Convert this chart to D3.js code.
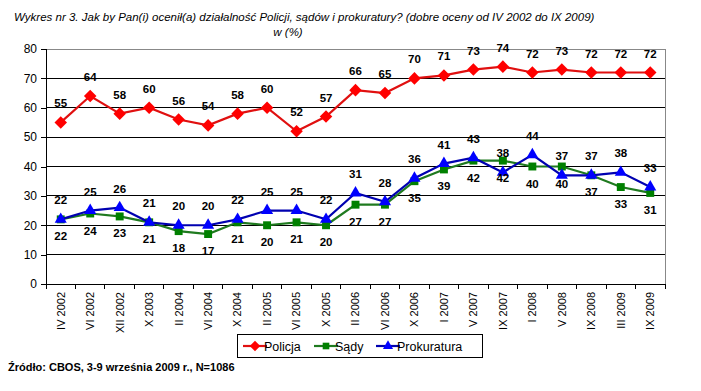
<!DOCTYPE html>
<html lang="pl">
<head>
    <meta charset="UTF-8">
    <script src="https://cdn.jsdelivr.net/npm/d3@7"></script>
    <title>Wykres nr 3</title>
    <style>
        body { margin: 0; background: white; }
        text { font-family: Arial, "Liberation Sans", sans-serif; }
    </style>
</head>
<body>
    <div id="chart"></div>
    <script>
        const categories = ["IV 2002", "VI 2002", "XII 2002", "X 2003", "II 2004", "VI 2004", "X 2004",
            "II 2005", "VI 2005", "X 2005", "II 2006", "VI 2006", "X 2006", "I 2007", "V 2007",
            "IX 2007", "I 2008", "V 2008", "IX 2008", "III 2009", "IX 2009"];
        const policja = [55, 64, 58, 60, 56, 54, 58, 60, 52, 57, 66, 65, 70, 71, 73, 74, 72, 73, 72, 72, 72];
        const sady = [22, 24, 23, 21, 18, 17, 21, 20, 21, 20, 27, 27, 35, 39, 42, 42, 40, 40, 37, 33, 31];
        const prokuratura = [22, 25, 26, 21, 20, 20, 22, 25, 25, 22, 31, 28, 36, 41, 43, 38, 44, 37, 37, 38, 33];
        const yTicks = [0, 10, 20, 30, 40, 50, 60, 70, 80];

        const series = [
            { name: "Policja", values: policja, line: "#e01010", fill: "#ff0000", marker: "diamond", labelPos: "above" },
            { name: "Sądy", values: sady, line: "#1f7a1f", fill: "#008000", marker: "square", labelPos: "below" },
            { name: "Prokuratura", values: prokuratura, line: "#0000b0", fill: "#0000ff", marker: "triangle", labelPos: "above" }
        ];

        const width = 701, height = 391;
        const plot = { left: 46, right: 665, top: 49, bottom: 284 };

        const svg = d3.select("#chart").append("svg")
            .attr("width", width)
            .attr("height", height);

        // title
        svg.append("text")
            .attr("x", 14).attr("y", 21)
            .attr("font-size", 11.5)
            .attr("font-style", "italic")
            .text("Wykres nr 3. Jak by Pan(i) ocenił(a) działalność Policji, sądów i prokuratury? (dobre oceny od IV 2002 do IX 2009)");
        svg.append("text")
            .attr("x", 288).attr("y", 36)
            .attr("font-size", 11.5)
            .attr("font-style", "italic")
            .attr("text-anchor", "middle")
            .text("w (%)");

        const x = d3.scaleBand().domain(categories).range([plot.left, plot.right]);
        const y = d3.scaleLinear().domain([0, 80]).range([plot.bottom, plot.top]);
        const cx = d => x(d) + x.bandwidth() / 2;

        // gridlines
        svg.append("g").selectAll("line")
            .data(yTicks.filter(t => t > 0 && t < 80))
            .enter().append("line")
            .attr("x1", plot.left).attr("x2", plot.right)
            .attr("y1", d => y(d)).attr("y2", d => y(d))
            .attr("stroke", "#000").attr("stroke-width", 1)
            .attr("shape-rendering", "crispEdges");

        // plot border top/right (gray)
        svg.append("path")
            .attr("d", `M${plot.left},${y(80)}H${plot.right}V${plot.bottom}`)
            .attr("fill", "none").attr("stroke", "#888")
            .attr("shape-rendering", "crispEdges");

        // y axis
        const yAxis = svg.append("g")
            .attr("transform", `translate(${plot.left},0)`)
            .call(d3.axisLeft(y).tickValues(yTicks).tickSize(5).tickPadding(4));
        yAxis.selectAll("text").attr("font-size", 12).attr("font-family", "Arial, sans-serif").attr("fill", "#000");
        yAxis.selectAll("path, line").attr("stroke", "#000").attr("shape-rendering", "crispEdges");

        // x axis
        const xAxis = svg.append("g")
            .attr("transform", `translate(0,${plot.bottom})`)
            .call(d3.axisBottom(x).tickSize(0).tickSizeOuter(0));
        xAxis.select(".domain").attr("stroke", "#000").attr("shape-rendering", "crispEdges");
        xAxis.selectAll(".tick text")
            .attr("font-size", 11).attr("font-family", "Arial, sans-serif").attr("fill", "#000")
            .attr("text-anchor", "end")
            .attr("transform", "rotate(-90)")
            .attr("x", -8).attr("y", 0).attr("dy", "0.35em");
        // tick marks at band boundaries
        svg.append("g").selectAll("line")
            .data(d3.range(categories.length + 1))
            .enter().append("line")
            .attr("x1", i => plot.left + i * x.step()).attr("x2", i => plot.left + i * x.step())
            .attr("y1", plot.bottom).attr("y2", plot.bottom + 5)
            .attr("stroke", "#000").attr("shape-rendering", "crispEdges");

        const symbolFor = m => m === "diamond" ? d3.symbolDiamond2 : m === "square" ? d3.symbolSquare2 : d3.symbolTriangle2;
        const sizeFor = m => m === "diamond" ? 100 : m === "square" ? 80 : 105;

        const line = d3.line().x((d, i) => cx(categories[i])).y(d => y(d));

        series.forEach(s => {
            const g = svg.append("g");
            g.append("path")
                .attr("d", line(s.values))
                .attr("fill", "none")
                .attr("stroke", s.line)
                .attr("stroke-width", 2.2);
            g.selectAll("path.m")
                .data(s.values)
                .enter().append("path")
                .attr("class", "m")
                .attr("transform", (d, i) => `translate(${cx(categories[i])},${y(d)})`)
                .attr("d", d3.symbol().type(symbolFor(s.marker)).size(sizeFor(s.marker)))
                .attr("fill", s.fill);
        });

        // data labels
        series.forEach(s => {
            svg.append("g").selectAll("text")
                .data(s.values)
                .enter().append("text")
                .attr("x", (d, i) => cx(categories[i]))
                .attr("y", d => y(d) + (s.labelPos === "above" ? -15 : 21))
                .attr("text-anchor", "middle")
                .attr("font-size", 11.5)
                .attr("font-weight", "bold")
                .attr("fill", "#000")
                .text(d => d);
        });

        // legend
        const legend = svg.append("g").attr("transform", "translate(237,334)");
        legend.append("rect")
            .attr("width", 245).attr("height", 23)
            .attr("fill", "#fff").attr("stroke", "#000")
            .attr("shape-rendering", "crispEdges");
        const legendX = [6, 77, 139];
        const legendText = [30, 101, 163];
        series.forEach((s, i) => {
            const item = legend.append("g").attr("transform", `translate(${legendX[i]},12)`);
            item.append("line").attr("x1", 0).attr("x2", 24).attr("y1", 0).attr("y2", 0)
                .attr("stroke", s.line).attr("stroke-width", 2.2);
            item.append("path").attr("transform", "translate(12,0)")
                .attr("d", d3.symbol().type(symbolFor(s.marker)).size(sizeFor(s.marker) * 0.7))
                .attr("fill", s.fill);
            legend.append("text")
                .attr("x", legendText[i] - 3).attr("y", 16.5)
                .attr("font-size", 12.5)
                .text(s.name);
        });

        // source
        svg.append("text")
            .attr("x", 8).attr("y", 371)
            .attr("font-size", 11)
            .attr("font-weight", "bold")
            .text("Źródło: CBOS, 3-9 września 2009 r., N=1086");
    </script>
</body>
</html>
